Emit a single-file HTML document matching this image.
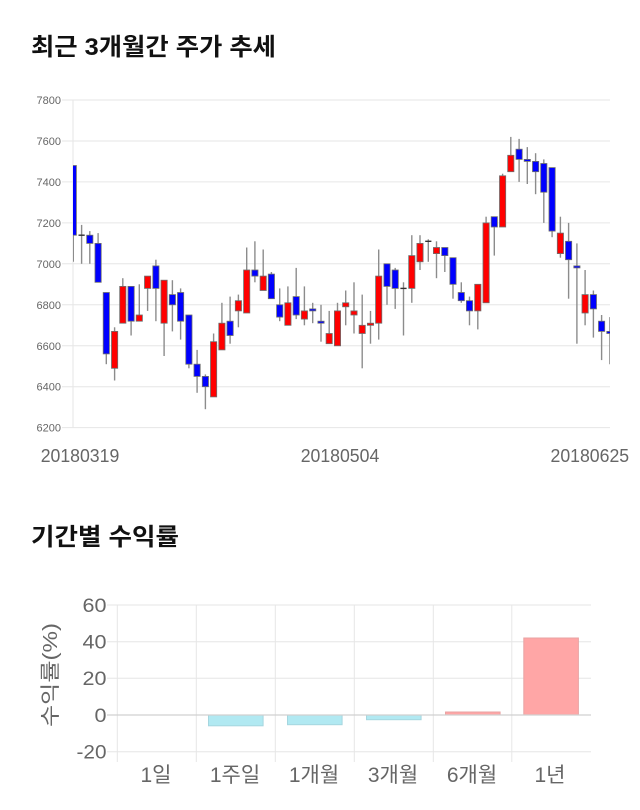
<!DOCTYPE html>
<html>
<head>
<meta charset="utf-8">
<style>
  html, body { margin:0; padding:0; background:#fff; }
  svg { display:block; }
  .t { font-family: "Liberation Sans", "Noto Sans CJK KR", sans-serif; }
  .w { stroke:#8c8c8c; stroke-width:1.4; }
  .r { fill:#ff0000; stroke:#6e6e6e; stroke-width:0.8; }
  .b { fill:#0000ff; stroke:#6e6e6e; stroke-width:0.8; }
  .d { stroke:#333; stroke-width:1.4; }
  .g { stroke:#e6e6e6; stroke-width:1; }
</style>
</head>
<body>
<svg width="640" height="810" viewBox="0 0 640 810" xmlns="http://www.w3.org/2000/svg">
  <rect x="0" y="0" width="640" height="810" fill="#fff"/>

  <!-- Title 1 -->
  <text class="t" x="31" y="55" font-size="24" font-weight="bold" fill="#111" textLength="245" lengthAdjust="spacingAndGlyphs">최근 3개월간 주가 추세</text>

  <!-- Top chart grid -->
  <g class="g">
    <line x1="62" y1="100" x2="610" y2="100"/>
    <line x1="62" y1="141" x2="610" y2="141"/>
    <line x1="62" y1="181.9" x2="610" y2="181.9"/>
    <line x1="62" y1="222.9" x2="610" y2="222.9"/>
    <line x1="62" y1="263.8" x2="610" y2="263.8"/>
    <line x1="62" y1="304.8" x2="610" y2="304.8"/>
    <line x1="62" y1="345.8" x2="610" y2="345.8"/>
    <line x1="62" y1="386.7" x2="610" y2="386.7"/>
    <line x1="62" y1="427.6" x2="610" y2="427.6"/>
    <line x1="73" y1="100" x2="73" y2="428"/>
  </g>
  <g class="t" font-size="11" fill="#666" text-anchor="end">
    <text x="61" y="104">7800</text>
    <text x="61" y="145">7600</text>
    <text x="61" y="185.9">7400</text>
    <text x="61" y="226.9">7200</text>
    <text x="61" y="267.8">7000</text>
    <text x="61" y="308.8">6800</text>
    <text x="61" y="349.8">6600</text>
    <text x="61" y="390.7">6400</text>
    <text x="61" y="431.6">6200</text>
  </g>

  <defs>
    <clipPath id="pc"><rect x="73" y="90" width="537" height="345"/></clipPath>
  </defs>

  <g clip-path="url(#pc)">
    <!-- 0 -->
    <line class="w" x1="73.3" y1="165.5" x2="73.3" y2="261.8"/><rect class="b" x="70.2" y="165.5" width="6.2" height="69.7"/>
    <!-- 1 -->
    <line class="w" x1="81.6" y1="224.9" x2="81.6" y2="263.8"/><line class="d" x1="78.5" y1="235.2" x2="84.7" y2="235.2"/>
    <!-- 2 -->
    <line class="w" x1="89.8" y1="231.1" x2="89.8" y2="263.8"/><rect class="b" x="86.7" y="235.2" width="6.2" height="8.2"/>
    <!-- 3 -->
    <line class="w" x1="98.1" y1="233.1" x2="98.1" y2="282.3"/><rect class="b" x="95.0" y="243.4" width="6.2" height="38.9"/>
    <!-- 4 -->
    <line class="w" x1="106.3" y1="292.5" x2="106.3" y2="364.2"/><rect class="b" x="103.2" y="292.5" width="6.2" height="61.4"/>
    <!-- 5 -->
    <line class="w" x1="114.6" y1="327.3" x2="114.6" y2="380.5"/><rect class="r" x="111.5" y="331.4" width="6.2" height="36.9"/>
    <!-- 6 -->
    <line class="w" x1="122.8" y1="278.2" x2="122.8" y2="323.2"/><rect class="r" x="119.7" y="286.4" width="6.2" height="36.8"/>
    <!-- 7 -->
    <line class="w" x1="131.1" y1="286.4" x2="131.1" y2="335.5"/><rect class="b" x="128.0" y="286.4" width="6.2" height="34.8"/>
    <!-- 8 -->
    <line class="w" x1="139.3" y1="284.3" x2="139.3" y2="321.2"/><rect class="r" x="136.2" y="315.0" width="6.2" height="6.2"/>
    <!-- 9 -->
    <line class="w" x1="147.6" y1="276.1" x2="147.6" y2="310.9"/><rect class="r" x="144.5" y="276.1" width="6.2" height="12.3"/>
    <!-- 10 -->
    <line class="w" x1="155.9" y1="259.7" x2="155.9" y2="321.2"/><rect class="b" x="152.8" y="265.9" width="6.2" height="22.5"/>
    <!-- 11 -->
    <line class="w" x1="164.1" y1="280.2" x2="164.1" y2="356.0"/><rect class="r" x="161.0" y="280.2" width="6.2" height="43.0"/>
    <!-- 12 -->
    <line class="w" x1="172.4" y1="280.2" x2="172.4" y2="331.4"/><rect class="b" x="169.3" y="294.6" width="6.2" height="10.2"/>
    <!-- 13 -->
    <line class="w" x1="180.6" y1="288.4" x2="180.6" y2="339.6"/><rect class="b" x="177.5" y="292.5" width="6.2" height="28.7"/>
    <!-- 14 -->
    <line class="w" x1="188.9" y1="315.0" x2="188.9" y2="368.3"/><rect class="b" x="185.8" y="315.0" width="6.2" height="49.2"/>
    <!-- 15 -->
    <line class="w" x1="197.1" y1="349.9" x2="197.1" y2="392.8"/><rect class="b" x="194.0" y="364.2" width="6.2" height="12.2"/>
    <!-- 16 -->
    <line class="w" x1="205.4" y1="374.4" x2="205.4" y2="409.2"/><rect class="b" x="202.3" y="376.4" width="6.2" height="10.3"/>
    <!-- 17 -->
    <line class="w" x1="213.6" y1="333.5" x2="213.6" y2="396.9"/><rect class="r" x="210.5" y="341.7" width="6.2" height="55.2"/>
    <!-- 18 -->
    <line class="w" x1="221.9" y1="302.8" x2="221.9" y2="349.9"/><rect class="r" x="218.8" y="323.2" width="6.2" height="26.7"/>
    <!-- 19 -->
    <line class="w" x1="230.1" y1="296.6" x2="230.1" y2="343.7"/><rect class="b" x="227.0" y="321.2" width="6.2" height="14.3"/>
    <!-- 20 -->
    <line class="w" x1="238.4" y1="294.6" x2="238.4" y2="327.3"/><rect class="r" x="235.3" y="300.7" width="6.2" height="10.2"/>
    <!-- 21 -->
    <line class="w" x1="246.7" y1="247.5" x2="246.7" y2="313.0"/><rect class="r" x="243.6" y="270.0" width="6.2" height="43.0"/>
    <!-- 22 -->
    <line class="w" x1="254.9" y1="241.3" x2="254.9" y2="282.3"/><rect class="b" x="251.8" y="270.0" width="6.2" height="6.1"/>
    <!-- 23 -->
    <line class="w" x1="263.2" y1="249.5" x2="263.2" y2="290.5"/><rect class="r" x="260.1" y="276.1" width="6.2" height="14.4"/>
    <!-- 24 -->
    <line class="w" x1="271.4" y1="272.0" x2="271.4" y2="298.7"/><rect class="b" x="268.3" y="274.1" width="6.2" height="24.6"/>
    <!-- 25 -->
    <line class="w" x1="279.7" y1="288.4" x2="279.7" y2="321.2"/><rect class="b" x="276.6" y="304.8" width="6.2" height="12.3"/>
    <!-- 26 -->
    <line class="w" x1="287.9" y1="286.4" x2="287.9" y2="325.3"/><rect class="r" x="284.8" y="302.8" width="6.2" height="22.5"/>
    <!-- 27 -->
    <line class="w" x1="296.2" y1="267.9" x2="296.2" y2="319.1"/><rect class="b" x="293.1" y="296.6" width="6.2" height="18.4"/>
    <!-- 28 -->
    <line class="w" x1="304.4" y1="286.4" x2="304.4" y2="325.3"/><rect class="r" x="301.3" y="310.9" width="6.2" height="8.2"/>
    <!-- 29 -->
    <line class="w" x1="312.7" y1="302.8" x2="312.7" y2="323.2"/><rect class="b" x="309.6" y="308.9" width="6.2" height="2.0"/>
    <!-- 30 -->
    <line class="w" x1="321.0" y1="304.8" x2="321.0" y2="341.7"/><rect class="b" x="317.9" y="321.2" width="6.2" height="2.0"/>
    <!-- 31 -->
    <line class="w" x1="329.2" y1="310.9" x2="329.2" y2="343.7"/><rect class="r" x="326.1" y="333.5" width="6.2" height="10.2"/>
    <!-- 32 -->
    <line class="w" x1="337.5" y1="302.8" x2="337.5" y2="345.8"/><rect class="r" x="334.4" y="310.9" width="6.2" height="34.9"/>
    <!-- 33 -->
    <line class="w" x1="345.7" y1="290.5" x2="345.7" y2="325.3"/><rect class="r" x="342.6" y="302.8" width="6.2" height="4.0"/>
    <!-- 34 -->
    <line class="w" x1="354.0" y1="282.3" x2="354.0" y2="333.5"/><rect class="r" x="350.9" y="310.9" width="6.2" height="4.1"/>
    <!-- 35 -->
    <line class="w" x1="362.2" y1="294.6" x2="362.2" y2="368.3"/><rect class="r" x="359.1" y="325.3" width="6.2" height="8.2"/>
    <!-- 36 -->
    <line class="w" x1="370.5" y1="310.9" x2="370.5" y2="343.7"/><rect class="r" x="367.4" y="323.2" width="6.2" height="2.1"/>
    <!-- 37 -->
    <line class="w" x1="378.7" y1="249.5" x2="378.7" y2="339.6"/><rect class="r" x="375.6" y="276.1" width="6.2" height="47.1"/>
    <!-- 38 -->
    <line class="w" x1="387.0" y1="263.8" x2="387.0" y2="304.8"/><rect class="b" x="383.9" y="263.8" width="6.2" height="22.6"/>
    <!-- 39 -->
    <line class="w" x1="395.2" y1="267.9" x2="395.2" y2="308.9"/><rect class="b" x="392.1" y="270.0" width="6.2" height="18.4"/>
    <!-- 40 -->
    <line class="w" x1="403.5" y1="282.3" x2="403.5" y2="335.5"/><line class="d" x1="400.4" y1="288.4" x2="406.6" y2="288.4"/>
    <!-- 41 -->
    <line class="w" x1="411.8" y1="235.2" x2="411.8" y2="302.8"/><rect class="r" x="408.7" y="255.6" width="6.2" height="32.8"/>
    <!-- 42 -->
    <line class="w" x1="420.0" y1="235.2" x2="420.0" y2="270.0"/><rect class="r" x="416.9" y="243.4" width="6.2" height="18.4"/>
    <!-- 43 -->
    <line class="w" x1="428.3" y1="239.3" x2="428.3" y2="261.8"/><line class="d" x1="425.2" y1="241.3" x2="431.4" y2="241.3"/>
    <!-- 44 -->
    <line class="w" x1="436.5" y1="241.3" x2="436.5" y2="278.2"/><rect class="r" x="433.4" y="247.5" width="6.2" height="6.1"/>
    <!-- 45 -->
    <line class="w" x1="444.8" y1="247.5" x2="444.8" y2="272.0"/><rect class="b" x="441.7" y="247.5" width="6.2" height="8.1"/>
    <!-- 46 -->
    <line class="w" x1="453.0" y1="257.7" x2="453.0" y2="298.7"/><rect class="b" x="449.9" y="257.7" width="6.2" height="26.6"/>
    <!-- 47 -->
    <line class="w" x1="461.3" y1="282.3" x2="461.3" y2="302.8"/><rect class="b" x="458.2" y="292.5" width="6.2" height="8.2"/>
    <!-- 48 -->
    <line class="w" x1="469.5" y1="296.6" x2="469.5" y2="325.3"/><rect class="b" x="466.4" y="300.7" width="6.2" height="10.2"/>
    <!-- 49 -->
    <line class="w" x1="477.8" y1="284.3" x2="477.8" y2="329.4"/><rect class="r" x="474.7" y="284.3" width="6.2" height="26.6"/>
    <!-- 50 -->
    <line class="w" x1="486.1" y1="216.7" x2="486.1" y2="302.8"/><rect class="r" x="483.0" y="222.9" width="6.2" height="79.9"/>
    <!-- 51 -->
    <line class="w" x1="494.3" y1="216.7" x2="494.3" y2="255.6"/><rect class="b" x="491.2" y="216.7" width="6.2" height="10.3"/>
    <!-- 52 -->
    <line class="w" x1="502.6" y1="173.7" x2="502.6" y2="227.0"/><rect class="r" x="499.5" y="175.8" width="6.2" height="51.2"/>
    <!-- 53 -->
    <line class="w" x1="510.8" y1="136.9" x2="510.8" y2="171.7"/><rect class="r" x="507.7" y="155.3" width="6.2" height="16.4"/>
    <!-- 54 -->
    <line class="w" x1="519.1" y1="138.9" x2="519.1" y2="181.9"/><rect class="b" x="516.0" y="149.2" width="6.2" height="10.2"/>
    <!-- 55 -->
    <line class="w" x1="527.3" y1="147.1" x2="527.3" y2="184.0"/><rect class="b" x="524.2" y="159.4" width="6.2" height="2.0"/>
    <!-- 56 -->
    <line class="w" x1="535.6" y1="153.2" x2="535.6" y2="194.2"/><rect class="b" x="532.5" y="161.4" width="6.2" height="10.3"/>
    <!-- 57 -->
    <line class="w" x1="543.8" y1="159.4" x2="543.8" y2="222.9"/><rect class="b" x="540.7" y="163.5" width="6.2" height="28.7"/>
    <!-- 58 -->
    <line class="w" x1="552.1" y1="167.6" x2="552.1" y2="237.2"/><rect class="b" x="549.0" y="167.6" width="6.2" height="63.5"/>
    <!-- 59 -->
    <line class="w" x1="560.4" y1="216.7" x2="560.4" y2="257.7"/><rect class="r" x="557.3" y="233.1" width="6.2" height="20.5"/>
    <!-- 60 -->
    <line class="w" x1="568.6" y1="222.9" x2="568.6" y2="298.7"/><rect class="b" x="565.5" y="241.3" width="6.2" height="18.4"/>
    <!-- 61 -->
    <line class="w" x1="576.9" y1="243.4" x2="576.9" y2="343.7"/><rect class="b" x="573.8" y="265.9" width="6.2" height="2.0"/>
    <!-- 62 -->
    <line class="w" x1="585.1" y1="270.0" x2="585.1" y2="325.3"/><rect class="r" x="582.0" y="294.6" width="6.2" height="18.4"/>
    <!-- 63 -->
    <line class="w" x1="593.4" y1="290.5" x2="593.4" y2="337.6"/><rect class="b" x="590.3" y="294.6" width="6.2" height="14.3"/>
    <!-- 64 -->
    <line class="w" x1="601.6" y1="315.0" x2="601.6" y2="360.1"/><rect class="b" x="598.5" y="321.2" width="6.2" height="10.2"/>
    <!-- 65 -->
    <line class="w" x1="609.9" y1="317.1" x2="609.9" y2="364.2"/><rect class="b" x="606.8" y="331.4" width="6.2" height="2.1"/>
  </g>

  <!-- Top chart x labels -->
  <g class="t" font-size="18" fill="#666">
    <text x="40.7" y="462" textLength="78.6" lengthAdjust="spacingAndGlyphs">20180319</text>
    <text x="300.7" y="462" textLength="78.6" lengthAdjust="spacingAndGlyphs">20180504</text>
    <text x="550.5" y="462" textLength="78.6" lengthAdjust="spacingAndGlyphs">20180625</text>
  </g>

  <!-- Title 2 -->
  <text class="t" x="31" y="545" font-size="24" font-weight="bold" fill="#111" textLength="148" lengthAdjust="spacingAndGlyphs">기간별 수익률</text>

  <!-- Bottom chart grid -->
  <g class="g">
    <line x1="107" y1="605" x2="591" y2="605"/>
    <line x1="107" y1="641.7" x2="591" y2="641.7"/>
    <line x1="107" y1="678.3" x2="591" y2="678.3"/>
    <line x1="107" y1="751.7" x2="591" y2="751.7"/>
    <line x1="117.3" y1="605" x2="117.3" y2="762"/>
    <line x1="196.3" y1="605" x2="196.3" y2="762"/>
    <line x1="275.3" y1="605" x2="275.3" y2="762"/>
    <line x1="354.3" y1="605" x2="354.3" y2="762"/>
    <line x1="433.3" y1="605" x2="433.3" y2="762"/>
    <line x1="511.8" y1="605" x2="511.8" y2="762"/>
  </g>

  <!-- Bars -->
  <g stroke-width="1">
    <rect x="129.5" y="714.6" width="54.6" height="0.8" fill="#b1e9f2" stroke="none"/>
    <rect x="208.5" y="715" width="54.6" height="10.8" fill="#b1e9f2" stroke="#a6d6df"/>
    <rect x="287.5" y="715" width="54.6" height="9.7" fill="#b1e9f2" stroke="#a6d6df"/>
    <rect x="366.5" y="715" width="54.6" height="4.7" fill="#b1e9f2" stroke="#a6d6df"/>
    <rect x="445.5" y="712" width="54.6" height="3" fill="#ffa6a6" stroke="#e8a3a3"/>
    <rect x="523.8" y="638" width="54.6" height="77" fill="#ffa6a6" stroke="#e8a3a3"/>
  </g>
  <line x1="107" y1="715" x2="591" y2="715" stroke="#d0d0d0" stroke-width="1.3"/>

  <!-- Bottom y labels -->
  <g class="t" font-size="19" fill="#666" text-anchor="end">
    <text x="106.5" y="611.8" textLength="24" lengthAdjust="spacingAndGlyphs">60</text>
    <text x="106.5" y="648.5" textLength="24" lengthAdjust="spacingAndGlyphs">40</text>
    <text x="106.5" y="685.1" textLength="24" lengthAdjust="spacingAndGlyphs">20</text>
    <text x="106.5" y="721.8" textLength="12" lengthAdjust="spacingAndGlyphs">0</text>
    <text x="106.5" y="758.5" textLength="30" lengthAdjust="spacingAndGlyphs">-20</text>
  </g>

  <!-- Y axis title -->
  <text class="t" transform="translate(57,675) rotate(-90)" x="0" y="0" font-size="20" fill="#666" text-anchor="middle" textLength="104" lengthAdjust="spacingAndGlyphs">수익률(%)</text>

  <!-- Bottom x labels -->
  <g class="t" font-size="21" fill="#666" text-anchor="middle">
    <text x="156" y="782">1일</text>
    <text x="235" y="782">1주일</text>
    <text x="314" y="782">1개월</text>
    <text x="393" y="782">3개월</text>
    <text x="472" y="782">6개월</text>
    <text x="550" y="782">1년</text>
  </g>
</svg>
</body>
</html>
